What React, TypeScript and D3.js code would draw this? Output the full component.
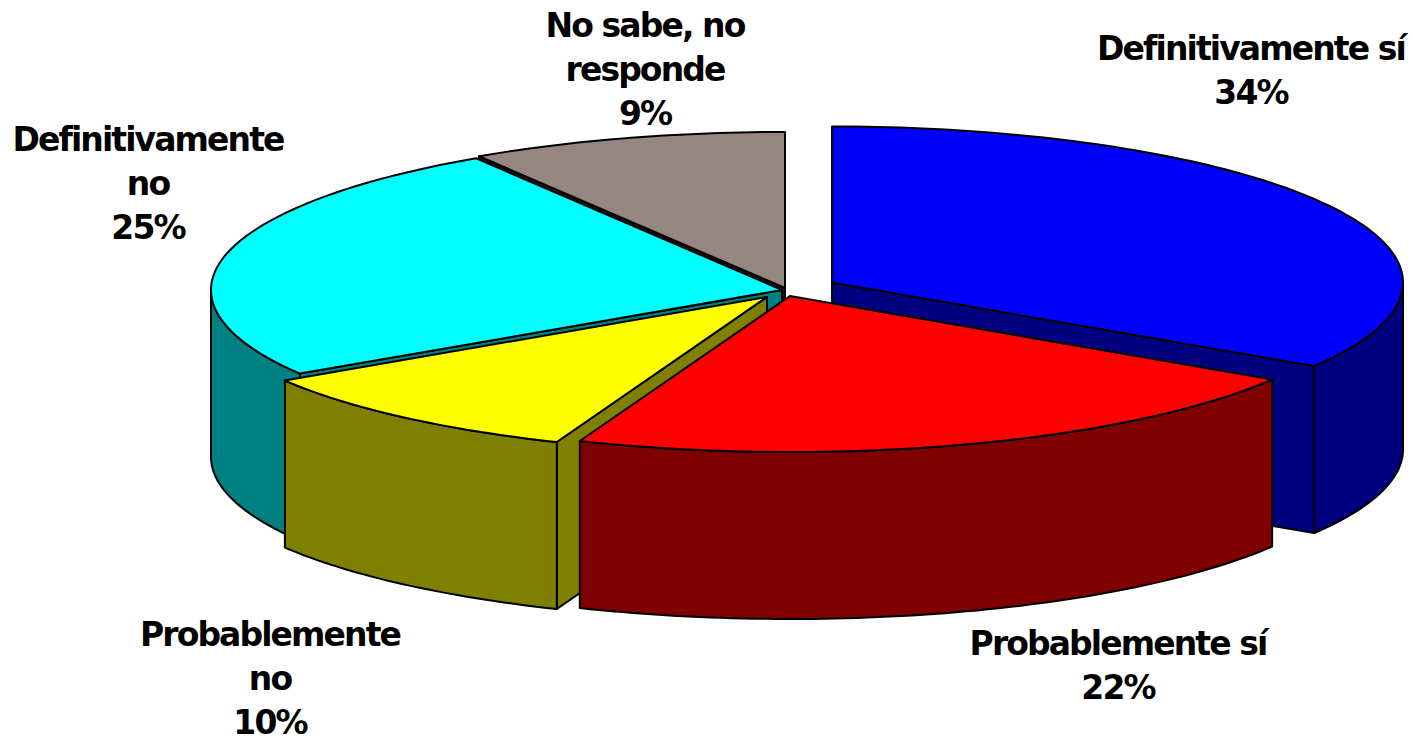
import React from "react";
import * as d3 from "d3";

const categories = ["Definitivamente sí", "Probablemente sí", "Probablemente no", "Definitivamente no", "No sabe, no responde"];
const values = [34, 22, 10, 25, 9];
const topColors = ["#0000ff", "#ff0000", "#ffff00", "#00ffff", "#968681"];
const sideColors = ["#000080", "#800000", "#808000", "#008080", "#1a1716"];
const centersX = [832, 790, 767, 782, 785];
const centersY = [282.5, 296, 297, 290, 288];
const labelLines = [["Definitivamente sí", "34%"], ["Probablemente sí", "22%"], ["Probablemente", "no", "10%"], ["Definitivamente", "no", "25%"], ["No sabe, no", "responde", "9%"]];
const labelX = [1251, 1118, 270, 148, 645];
const labelY = [60, 655, 646, 151, 37];
const drawOrder = [4, 3, 0, 2, 1];

const RX = 571, RY = 156, DEPTH = 167;
const pie = d3.pie<number>().sort(null)(values);
const line = d3.line<[number, number]>();

function rim(i: number, a0: number, a1: number, dy = 0): [number, number][] {
  const n = Math.max(2, Math.ceil(Math.abs(a1 - a0) / 0.02));
  return d3.range(n + 1).map((k) => {
    const a = a0 + ((a1 - a0) * k) / n;
    return [centersX[i] + RX * Math.sin(a), centersY[i] - RY * Math.cos(a) + dy] as [number, number];
  });
}

function Slice({ i }: { i: number }) {
  const { startAngle: s, endAngle: e } = pie[i];
  const c: [number, number] = [centersX[i], centersY[i]];
  const cb: [number, number] = [c[0], c[1] + DEPTH];
  const top = [c, ...rim(i, s, e)];
  const wall = (a: number) => {
    const p = rim(i, a, a)[0];
    return [c, p, [p[0], p[1] + DEPTH], cb] as [number, number][];
  };
  const lo = Math.max(s, Math.PI / 2);
  const hi = Math.min(e, (3 * Math.PI) / 2);
  const outer = hi > lo ? [...rim(i, lo, hi), ...rim(i, hi, lo, DEPTH)] : null;
  const st = { stroke: "#000", strokeWidth: 2, strokeLinejoin: "round" as const };
  return (
    <g>
      {Math.sin(s) < -1e-6 && <path d={line(wall(s))! + "Z"} fill={sideColors[i]} {...st} />}
      {Math.sin(e) > 1e-6 && <path d={line(wall(e))! + "Z"} fill={sideColors[i]} {...st} />}
      {outer && <path d={line(outer)! + "Z"} fill={sideColors[i]} {...st} />}
      <path d={line(top)! + "Z"} fill={topColors[i]} {...st} />
    </g>
  );
}

export default function App() {
  return (
    <svg width={1413} height={738} style={{ position: "absolute", left: 0, top: 0, background: "#fff" }}>
      {drawOrder.map((i) => <Slice key={categories[i]} i={i} />)}
      {labelLines.map((ls, i) => (
        <text key={i} textAnchor="middle" fontFamily="'DejaVu Sans'" fontWeight={700} fontSize={33} letterSpacing={-1.9} fill="#000">
          {ls.map((t, j) => <tspan key={j} x={labelX[i]} y={labelY[i] + j * 44}>{t}</tspan>)}
        </text>
      ))}
    </svg>
  );
}
